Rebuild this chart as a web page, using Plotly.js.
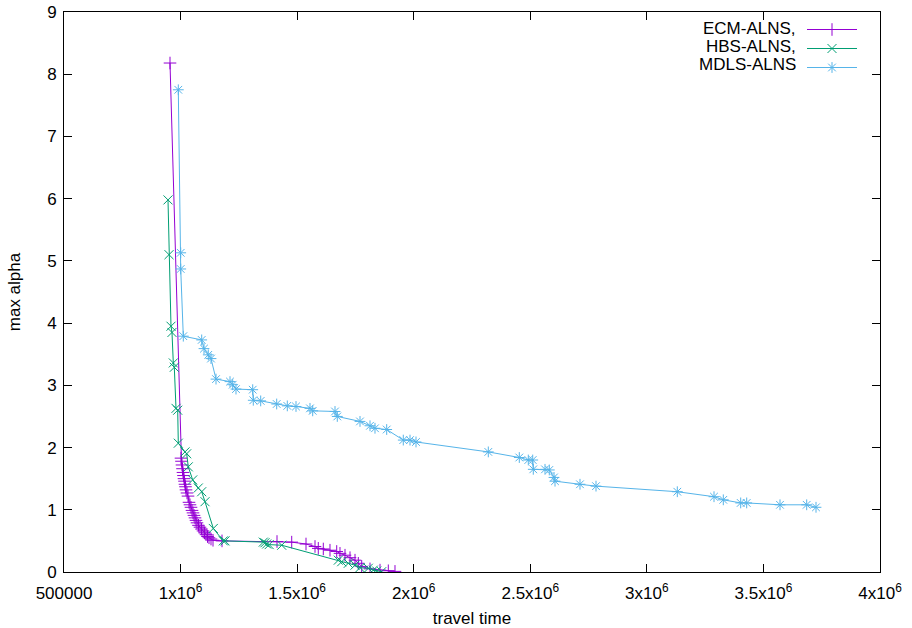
<!DOCTYPE html>
<html>
<head>
<meta charset="utf-8">
<script src="https://cdn.plot.ly/plotly-3.0.1.min.js"></script>
<style>
  html, body { margin: 0; padding: 0; background: #fff; }
  #chart { width: 912px; height: 628px; }
</style>
</head>
<body>
<div id="chart"></div>
<script>
const seriesNames = ["ECM-ALNS,", "HBS-ALNS,", "MDLS-ALNS"];

const ecmX = [954700, 1001800, 1003900, 1006100, 1008300, 1010400, 1012500, 1014700, 1016800, 1019000, 1021100, 1023300, 1027600, 1031900, 1036200, 1040400, 1044700, 1049000, 1053300, 1057600, 1061900, 1066200, 1070500, 1076900, 1083300, 1089800, 1096200, 1102600, 1109100, 1115500, 1121900, 1130500, 1139100, 1177700, 1413600, 1476700, 1538000, 1576600, 1590700, 1612200, 1640900, 1669700, 1683800, 1705300, 1726700, 1748200, 1762300, 1776900, 1812500, 1855400, 1891000, 1919700];
const ecmY = [8.18, 1.83, 1.78, 1.72, 1.66, 1.60, 1.55, 1.50, 1.46, 1.41, 1.37, 1.32, 1.27, 1.22, 1.12, 1.08, 1.04, 0.99, 0.95, 0.91, 0.87, 0.83, 0.79, 0.75, 0.72, 0.69, 0.66, 0.63, 0.60, 0.57, 0.55, 0.53, 0.51, 0.50, 0.49, 0.48, 0.45, 0.41, 0.38, 0.37, 0.35, 0.33, 0.30, 0.27, 0.23, 0.19, 0.14, 0.09, 0.05, 0.03, 0.02, 0.01];

const hbsX = [946100, 950400, 958900, 963200, 968800, 973100, 980400, 987700, 990300, 1019000, 1026300, 1033100, 1052000, 1076000, 1090600, 1104800, 1140400, 1183300, 1190600, 1354800, 1362000, 1369400, 1380000, 1433800, 1676500, 1691100, 1719400, 1748200, 1769600, 1805200, 1826700, 1841200, 1862700];
const hbsY = [5.98, 5.10, 3.95, 3.85, 3.36, 3.29, 2.63, 2.60, 2.07, 1.93, 1.90, 1.69, 1.48, 1.35, 1.29, 1.13, 0.70, 0.50, 0.50, 0.48, 0.47, 0.45, 0.44, 0.43, 0.19, 0.165, 0.14, 0.11, 0.07, 0.06, 0.03, 0.016, 0.005];

const mdlsX = [990300, 1000600, 1000600, 1011700, 1090600, 1100500, 1118900, 1130500, 1152000, 1212000, 1223600, 1237700, 1309400, 1311900, 1343700, 1412300, 1457800, 1495100, 1555100, 1566700, 1662400, 1672200, 1769600, 1812500, 1833900, 1884100, 1955300, 1984100, 2009800, 2319900, 2452900, 2491500, 2510400, 2512900, 2563100, 2581600, 2601700, 2606000, 2713200, 2781900, 3130600, 3288000, 3327900, 3402500, 3428200, 3571100, 3685600, 3725500];
const mdlsY = [7.75, 5.13, 4.87, 3.79, 3.73, 3.59, 3.49, 3.43, 3.10, 3.06, 3.01, 2.94, 2.93, 2.76, 2.75, 2.70, 2.67, 2.66, 2.63, 2.59, 2.58, 2.50, 2.42, 2.35, 2.31, 2.29, 2.12, 2.12, 2.09, 1.93, 1.84, 1.80, 1.80, 1.65, 1.65, 1.64, 1.52, 1.46, 1.41, 1.38, 1.29, 1.21, 1.16, 1.11, 1.11, 1.08, 1.08, 1.04];

const xTickVals = [500000, 1000000, 1500000, 2000000, 2500000, 3000000, 3500000, 4000000];
const xTickText = ["500000", "1x10<sup>6</sup>", "1.5x10<sup>6</sup>", "2x10<sup>6</sup>", "2.5x10<sup>6</sup>", "3x10<sup>6</sup>", "3.5x10<sup>6</sup>", "4x10<sup>6</sup>"];

const colors = ["#9400d3", "#009e73", "#56b4e9"];
const symbols = ["cross-thin-open", "x-thin-open", "asterisk-open"];
const sizes = [9, 9, 9];

const xs = [ecmX, hbsX, mdlsX];
const ys = [ecmY, hbsY, mdlsY];

const traces = xs.map((x, i) => ({
  type: "scatter",
  mode: "lines+markers",
  x: x,
  y: ys[i],
  name: "",
  line: { color: colors[i], width: 1 },
  marker: { symbol: symbols[i], size: sizes[i], color: colors[i], line: { color: colors[i], width: 1 } }
}));

const FONT = "Liberation Sans, Arial, sans-serif";
const L = 64, R = 880, T = 12, B = 572;
const px2x = p => (p - L) / (R - L);
const px2y = p => (B - p) / (B - T);

const annotations = seriesNames.map((n, i) => ({
  xref: "paper", yref: "paper",
  x: px2x(798), y: px2y(28 + 18 * i),
  xanchor: "right", yanchor: "middle",
  height: 17,
  text: n, showarrow: false,
  font: { family: FONT, size: 17, color: "#000" }
}));

const layout = {
  width: 912, height: 628,
  margin: { l: L, r: 912 - R, t: T, b: 628 - B },
  paper_bgcolor: "#fff", plot_bgcolor: "#fff",
  font: { family: FONT, size: 17, color: "#000" },
  showlegend: true,
  legend: {
    x: px2x(802), y: px2y(15),
    xanchor: "left", yanchor: "top",
    bgcolor: "rgba(0,0,0,0)", borderwidth: 0,
    itemwidth: 50,
    font: { family: FONT, size: 11, color: "#000" },
    tracegroupgap: 0
  },
  annotations: annotations,
  xaxis: {
    range: [500000, 4000000], automargin: false,
    tickmode: "array", tickvals: xTickVals, ticktext: xTickText,
    ticks: "inside", ticklen: 8, tickcolor: "#000", tickwidth: 1,
    ticklabelstandoff: 6,
    mirror: "allticks", showline: true, linecolor: "#000", linewidth: 1,
    showgrid: false, zeroline: false,
    tickfont: { family: FONT, size: 17, color: "#000" },
    title: { text: "travel time", font: { family: FONT, size: 17, color: "#000" } }
  },
  yaxis: {
    range: [0, 9], dtick: 1, tick0: 0, automargin: false,
    ticks: "inside", ticklen: 8, tickcolor: "#000", tickwidth: 1,
    ticklabelstandoff: 3,
    mirror: "allticks", showline: true, linecolor: "#000", linewidth: 1,
    showgrid: false, zeroline: false,
    tickfont: { family: FONT, size: 17, color: "#000" },
    title: { text: "max alpha", font: { family: FONT, size: 17, color: "#000" } }
  }
};

Plotly.newPlot("chart", traces, layout, { displayModeBar: false, staticPlot: true });
</script>
</body>
</html>
